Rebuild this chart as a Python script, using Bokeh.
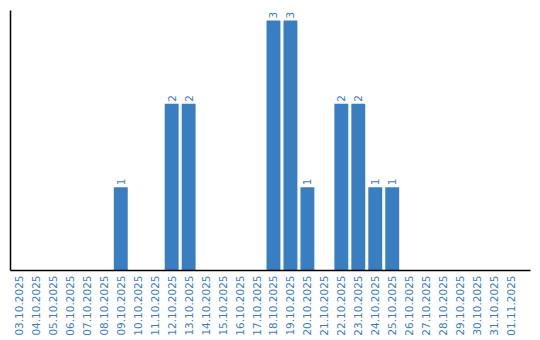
import math
from bokeh.plotting import figure
from bokeh.models import Range1d, FixedTicker, ColumnDataSource
from bokeh.core.properties import value
from bokeh.embed import file_html
from bokeh.resources import INLINE

dates = ["03.10.2025", "04.10.2025", "05.10.2025", "06.10.2025", "07.10.2025",
         "08.10.2025", "09.10.2025", "10.10.2025", "11.10.2025", "12.10.2025",
         "13.10.2025", "14.10.2025", "15.10.2025", "16.10.2025", "17.10.2025",
         "18.10.2025", "19.10.2025", "20.10.2025", "21.10.2025", "22.10.2025",
         "23.10.2025", "24.10.2025", "25.10.2025", "26.10.2025", "27.10.2025",
         "28.10.2025", "29.10.2025", "30.10.2025", "31.10.2025", "01.11.2025"]
counts = [0, 0, 0, 0, 0, 0, 1, 0, 0, 2, 2, 0, 0, 0, 0, 3, 3, 1, 0, 2, 2, 1, 1,
          0, 0, 0, 0, 0, 0, 0]

BLUE = "#3a7ec2"
FONT = "DejaVu Sans"

xs = list(range(len(dates)))
nz = [i for i, c in enumerate(counts) if c > 0]
bars = ColumnDataSource(dict(x=xs, top=counts))
labels = ColumnDataSource(dict(x=[xs[i] for i in nz], y=[counts[i] for i in nz],
                               t=[str(counts[i]) for i in nz]))

p = figure(width=540, height=340, output_backend="svg", toolbar_location=None,
           x_range=Range1d(-0.5, 30.15), y_range=Range1d(0, 3.12),
           min_border_left=10, min_border_right=10, min_border_top=10,
           min_border_bottom=70)
p.outline_line_color = None
p.xgrid.visible = False
p.ygrid.visible = False

p.vbar(x="x", top="top", width=0.82, source=bars, fill_color=BLUE, line_color=None)
p.text(x="x", y="y", text="t", source=labels, angle=math.pi / 2,
       text_align="left", text_baseline="middle", y_offset=-2, x_offset=0,
       text_color=BLUE, text_font=value(FONT), text_font_size="10.5px")

xa = p.xaxis[0]
xa.ticker = FixedTicker(ticks=xs)
xa.major_label_overrides = {i: d for i, d in enumerate(dates)}
xa.major_label_orientation = math.pi / 2
xa.major_label_text_color = BLUE
xa.major_label_text_font = FONT
xa.major_label_text_font_size = "10.5px"
xa.major_tick_line_color = None
xa.minor_tick_line_color = None
xa.major_tick_out = 0
xa.major_label_standoff = 5
xa.axis_line_color = "black"
xa.axis_line_width = 1.5

ya = p.yaxis[0]
ya.ticker = FixedTicker(ticks=[])
ya.major_tick_line_color = None
ya.minor_tick_line_color = None
ya.major_tick_out = 0
ya.major_label_text_font_size = "0px"
ya.major_label_standoff = 0
ya.axis_line_color = "black"
ya.axis_line_width = 1.5

open("out.html", "w").write(file_html(p, INLINE))
